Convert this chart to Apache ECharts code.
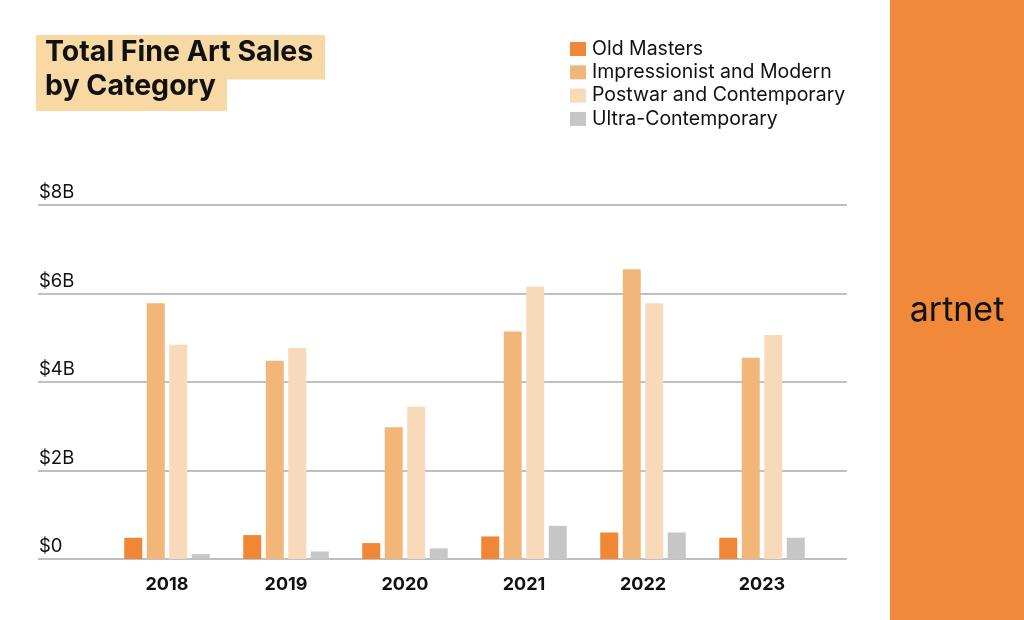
<!DOCTYPE html>
<html>
<head>
<meta charset="utf-8">
<script src="https://cdn.jsdelivr.net/npm/echarts@6/dist/echarts.min.js"></script>
<style>
html,body{margin:0;padding:0;background:#fff;}
#chart{width:1024px;height:620px;}
</style>
</head>
<body>
<div id="chart"></div>
<script>
const years = ['2018', '2019', '2020', '2021', '2022', '2023'];
const seriesNames = ['Old Masters', 'Impressionist and Modern', 'Postwar and Contemporary', 'Ultra-Contemporary'];
const oldMasters = [0.48, 0.54, 0.36, 0.51, 0.60, 0.48];
const impressionistModern = [5.78, 4.48, 2.98, 5.14, 6.55, 4.55];
const postwarContemporary = [4.84, 4.77, 3.44, 6.15, 5.78, 5.06];
const ultraContemporary = [0.11, 0.17, 0.24, 0.75, 0.60, 0.48];
const yTicks = [0, 2, 4, 6, 8];
const colors = ['#EF8736', '#F3B679', '#F8D9BA', '#C6C6C6'];

const FONT = 'Inter';
const chart = echarts.init(document.getElementById('chart'), null, {renderer: 'canvas'});

const values = [oldMasters, impressionistModern, postwarContemporary, ultraContemporary];
const series = seriesNames.map((name, i) => ({
  name: name,
  type: 'bar',
  xAxisIndex: 1,
  yAxisIndex: 1,
  data: values[i],
  barWidth: 18,
  barGap: '25%',
  itemStyle: {color: colors[i]},
  emphasis: {disabled: true}
}));

const option = {
  animation: false,
  backgroundColor: '#ffffff',
  textStyle: {fontFamily: FONT},
  grid: [
    {left: 38, right: 177, top: 205, bottom: 61},
    {left: 107.5, right: 202.5, top: 205, bottom: 61}
  ],
  xAxis: [
    {gridIndex: 0, type: 'value', min: 0, max: 1, show: false},
    {
      gridIndex: 1, type: 'category', data: years,
      axisLine: {show: false}, axisTick: {show: false},
      axisLabel: {fontFamily: FONT, fontSize: 18, fontWeight: 'bold', color: '#111', margin: 17}
    }
  ],
  yAxis: [
    {
      gridIndex: 0, type: 'value', min: yTicks[0], max: yTicks[yTicks.length - 1], interval: 2,
      axisLine: {show: false}, axisTick: {show: false},
      splitLine: {lineStyle: {color: '#ABABAB', width: 1.5}},
      axisLabel: {
        inside: true, verticalAlign: 'bottom', align: 'left', margin: 1,
        padding: [0, 0, 3, 0],
        fontFamily: FONT, fontSize: 18.5, color: '#111',
        formatter: v => v === 0 ? '$0' : '$' + v + 'B'
      }
    },
    {gridIndex: 1, type: 'value', min: 0, max: 8, show: false, splitLine: {show: false}}
  ],
  legend: {
    orient: 'vertical', left: 565, top: 34,
    itemWidth: 16, itemHeight: 14, itemGap: 3.3,
    icon: 'rect',
    textStyle: {fontFamily: FONT, fontSize: 19.5, lineHeight: 20, color: '#111', padding: [0, 0, 0, 1]},
    data: seriesNames,
    selectedMode: false
  },
  graphic: [
    {type: 'rect', left: 890, top: 0, shape: {width: 134, height: 620}, style: {fill: '#F08A3A'}, silent: true},
    {type: 'text', style: {x: 957, y: 311, text: 'artnet', font: '34px ' + FONT, fill: '#111', align: 'center', verticalAlign: 'middle'}},
    {type: 'rect', shape: {x: 36, y: 35, width: 289, height: 44.5}, style: {fill: '#F8D8A3'}, silent: true},
    {type: 'rect', shape: {x: 36, y: 79, width: 191, height: 32}, style: {fill: '#F8D8A3'}, silent: true},
    {type: 'text', style: {x: 45, y: 52, text: 'Total Fine Art Sales', font: 'bold 28.5px ' + FONT, fill: '#111', verticalAlign: 'middle'}},
    {type: 'text', style: {x: 45, y: 86, text: 'by Category', font: 'bold 28.5px ' + FONT, fill: '#111', verticalAlign: 'middle'}}
  ],
  series: series
};
chart.setOption(option);
</script>
</body>
</html>
